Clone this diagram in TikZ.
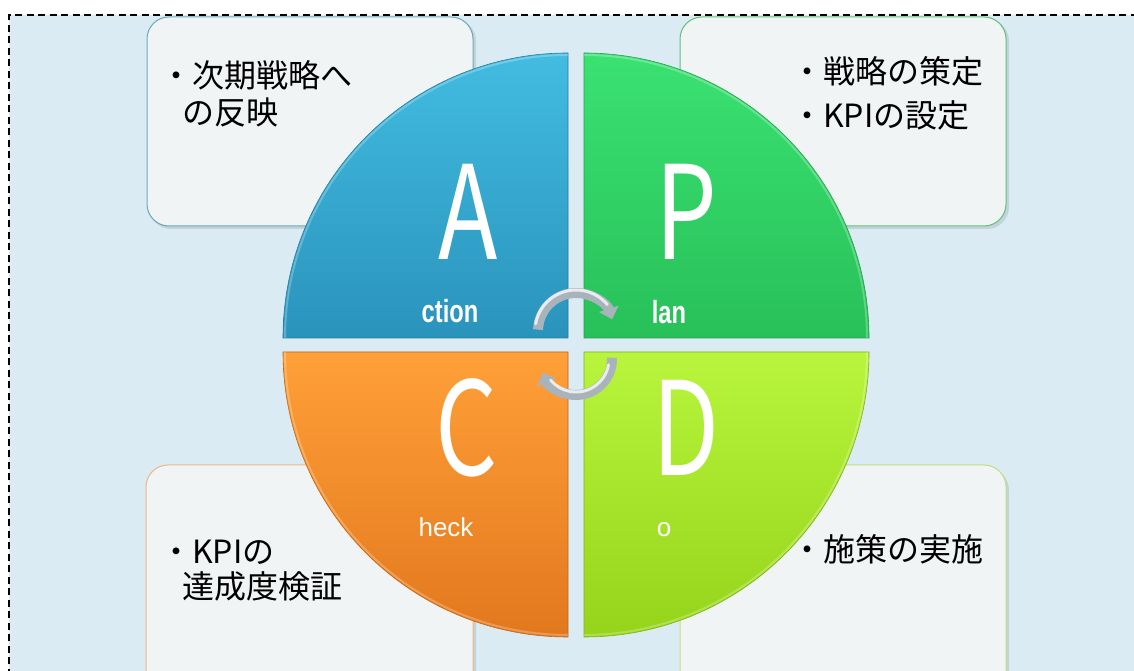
\documentclass[tikz,border=0pt]{standalone}
\usepackage{fontspec}
\usepackage{graphicx}
\newfontfamily\jpfont{Noto Sans CJK JP}
\newfontfamily\labfont{Liberation Sans}
\usetikzlibrary{arrows.meta}
\definecolor{bgblue}{HTML}{DAEBF3}
\definecolor{boxfill}{HTML}{F1F4F5}
\definecolor{tlline}{HTML}{6AAAB8}
\definecolor{trline}{HTML}{5FC27A}
\definecolor{blline}{HTML}{F2B488}
\definecolor{brline}{HTML}{BEE07A}
\definecolor{aTop}{HTML}{42BCE0}
\definecolor{aBot}{HTML}{2A93BC}
\definecolor{pTop}{HTML}{3AE272}
\definecolor{pBot}{HTML}{28C059}
\definecolor{cTop}{HTML}{FFA038}
\definecolor{cBot}{HTML}{E2781E}
\definecolor{dTop}{HTML}{B8F53C}
\definecolor{dBot}{HTML}{95D41A}
\definecolor{silver}{HTML}{A9B3BC}
\tikzset{
  infobox/.style={draw, line width=1pt, fill=boxfill, rounded corners=22pt, inner sep=0pt},
  boxshadow/.style={fill=black, opacity=0.10, rounded corners=22pt},
  jptext/.style={font=\jpfont\fontsize{32}{32}\selectfont, text=black, anchor=west, inner sep=0pt},
  bigl/.style={font=\jpfont\fontsize{130}{130}\selectfont, text=white, anchor=base, inner sep=0pt, xscale=0.75},
  boldlab/.style={font=\labfont\bfseries\fontsize{32}{32}\selectfont, text=white, anchor=base, inner sep=0pt, xscale=0.74},
  thinlab/.style={font=\labfont\fontsize{26}{26}\selectfont, text=white, anchor=base, inner sep=0pt},
  quad/.style={draw=#1Bot!85!black, line width=0.6pt, top color=#1Top, bottom color=#1Bot},
  rim/.style={draw=white, opacity=0.25, line width=2pt},
  bandouter/.style={draw=silver, line width=10pt, -{Triangle[length=11pt,width=20pt]}},
  bandinner/.style={draw=white, opacity=0.75, line width=3pt, line cap=round},
}
\begin{document}
\begin{tikzpicture}[x=1pt,y=1pt]
\useasboundingbox (0,0) rectangle (1134,671);
\clip (0,0) rectangle (1134,671);
\fill[white] (0,0) rectangle (1134,671);
\fill[bgblue] (9,-5) rectangle (1145,656);
\draw[black, line width=1.4pt, dash pattern=on 7pt off 4.5pt] (9,-5) -- (9,656) -- (1145,656);

% shadows
\fill[boxshadow] (149,442) rectangle (476,652);
\fill[boxshadow] (682,442) rectangle (1009,652);
\fill[boxshadow] (148,-30) rectangle (476,203);
\fill[boxshadow] (682,-30) rectangle (1009,203);

% boxes
\node[infobox, draw=tlline, minimum width=326pt, minimum height=209pt] (tlbox) at (310,549.5) {};
\node[infobox, draw=trline, minimum width=326pt, minimum height=209pt] (trbox) at (843,549.5) {};
\node[infobox, draw=blline, minimum width=327pt, minimum height=236pt] (blbox) at (309.5,88) {};
\node[infobox, draw=brline, minimum width=326pt, minimum height=236pt] (brbox) at (843,88) {};

% box texts
\node[jptext] (tl1) at (160,596) {・次期戦略へ};
\node[jptext] (tl2) at (182,559) {の反映};
\node[jptext] (tr1) at (791,600) {・戦略の策定};
\node[jptext] (tr2) at (791,556) {・KPIの設定};
\node[jptext] (bl1) at (160,119) {・KPIの};
\node[jptext] (bl2) at (182,85) {達成度検証};
\node[jptext] (br1) at (791,122) {・施策の実施};

% quadrants
\path[quad=a] (568,333) -- (283,333) arc[start angle=180, end angle=90, radius=285pt] -- cycle;
\path[quad=p] (584,333) -- (584,618) arc[start angle=90, end angle=0, radius=285pt] -- cycle;
\path[quad=c] (568,319) -- (283,319) arc[start angle=180, end angle=270, radius=285pt] -- cycle;
\path[quad=d] (584,319) -- (869,319) arc[start angle=0, end angle=-90, radius=285pt] -- cycle;
\draw[rim] (285,333) arc[start angle=180, end angle=90, radius=283pt];
\draw[rim] (584,616) arc[start angle=90, end angle=0, radius=283pt];
\draw[rim] (285,319) arc[start angle=180, end angle=270, radius=283pt];
\draw[rim] (867,319) arc[start angle=0, end angle=-90, radius=283pt];

% letters
\node[bigl] (la) at (468,411) {A};
\node[bigl] (lp) at (686,411) {P};
\node[bigl] (lc) at (467,195) {C};
\node[bigl] (ld) at (686,195) {D};
\node[boldlab] (sa) at (450,348) {ction};
\node[boldlab] (sp) at (669,347) {lan};
\node[thinlab] (sc) at (446,134) {heck};
\node[thinlab] (sd) at (664,134) {o};

% cycle arrows
\coordinate (topc) at (576,340);
\coordinate (botc) at (576,312);
\draw[bandouter] (topc) ++(178:38) arc[start angle=178, end angle=18, radius=38pt];
\draw[bandinner] (topc) ++(170:41) arc[start angle=170, end angle=40, radius=41pt];
\draw[bandouter] (botc) ++(2:36) arc[start angle=2, end angle=-158, radius=36pt];
\draw[bandinner] (botc) ++(-10:33) arc[start angle=-10, end angle=-140, radius=33pt];
\end{tikzpicture}
\end{document}
